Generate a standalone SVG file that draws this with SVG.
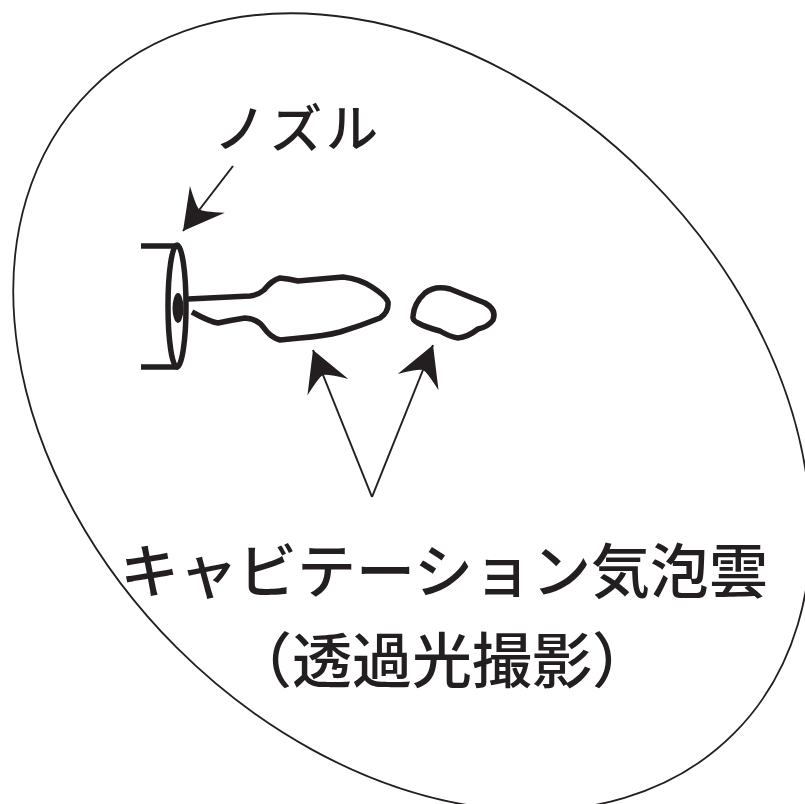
<svg xmlns="http://www.w3.org/2000/svg" width="805" height="804" viewBox="0 0 805 804">
  <style>
    .frame { fill: none; stroke: #231f20; stroke-width: 1.8; }
    .thick { fill: none; stroke: #231f20; stroke-width: 5.5; stroke-linecap: butt; stroke-linejoin: round; }
    .lead { fill: none; stroke: #231f20; stroke-width: 2; }
    .label { font-family: "Noto Sans CJK JP", "Noto Sans", sans-serif; font-weight: 500; fill: #231f20; }
  </style>
  <defs>
    <marker id="head" markerUnits="userSpaceOnUse" markerWidth="48" markerHeight="50" viewBox="-44 -25 48 50" refX="0" refY="0" orient="auto">
      <path d="M0,0 L-40,-22 Q-27,-4 -27,0 Q-27,4 -40,22 Z" fill="#231f20"/>
    </marker>
  </defs>

  <rect width="805" height="804" fill="#ffffff"/>

  <!-- tilted field of view -->
  <ellipse class="frame" cx="412" cy="412" rx="455" ry="333" transform="rotate(45 412 412)"/>

  <g id="nozzle">
    <path class="thick" d="M141,246 H178 M141,367 H178"/>
    <ellipse class="thick" cx="177" cy="306" rx="9" ry="61"/>
    <ellipse cx="178" cy="308" rx="5.5" ry="15" fill="#231f20"/>
  </g>

  <g id="cloud-main">
    <path class="thick" d="M188,299 L250,296 Q258,295 264,290 Q272,280 280,278 Q290,279 298,281 L343,277 Q360,279 372,287 Q386,296 388,302 Q389,312 380,318 Q360,326 340,332 Q325,336 300,338 L280,340 Q270,337 264,328 Q258,319 245,318 Q232,320 218,323 Q210,322 192,312"/>
  </g>

  <g id="cloud-shed">
    <path class="thick" d="M413,316 Q414,303 425,293 Q435,285 450,289 Q470,297 485,303 Q497,310 493,320 Q488,327 478,329 Q468,337 458,338 Q450,337 440,331 Q425,327 418,323 Q412,320 413,316 Z"/>
  </g>

  <g id="label-nozzle">
    <text class="label" x="214" y="148" font-size="52" letter-spacing="4">ノズル</text>
  </g>

  <g id="label-cloud">
    <text class="label" x="444" y="593" font-size="59" text-anchor="middle">キャビテーション気泡雲</text>
    <text class="label" x="442" y="683" font-size="60" text-anchor="middle">（透過光撮影）</text>
  </g>

  <g id="connectors">
    <line class="lead" x1="233" y1="166" x2="183" y2="231" marker-end="url(#head)"/>
    <line class="lead" x1="372" y1="497" x2="313" y2="350" marker-end="url(#head)"/>
    <line class="lead" x1="372" y1="497" x2="433" y2="345" marker-end="url(#head)"/>
  </g>
</svg>
